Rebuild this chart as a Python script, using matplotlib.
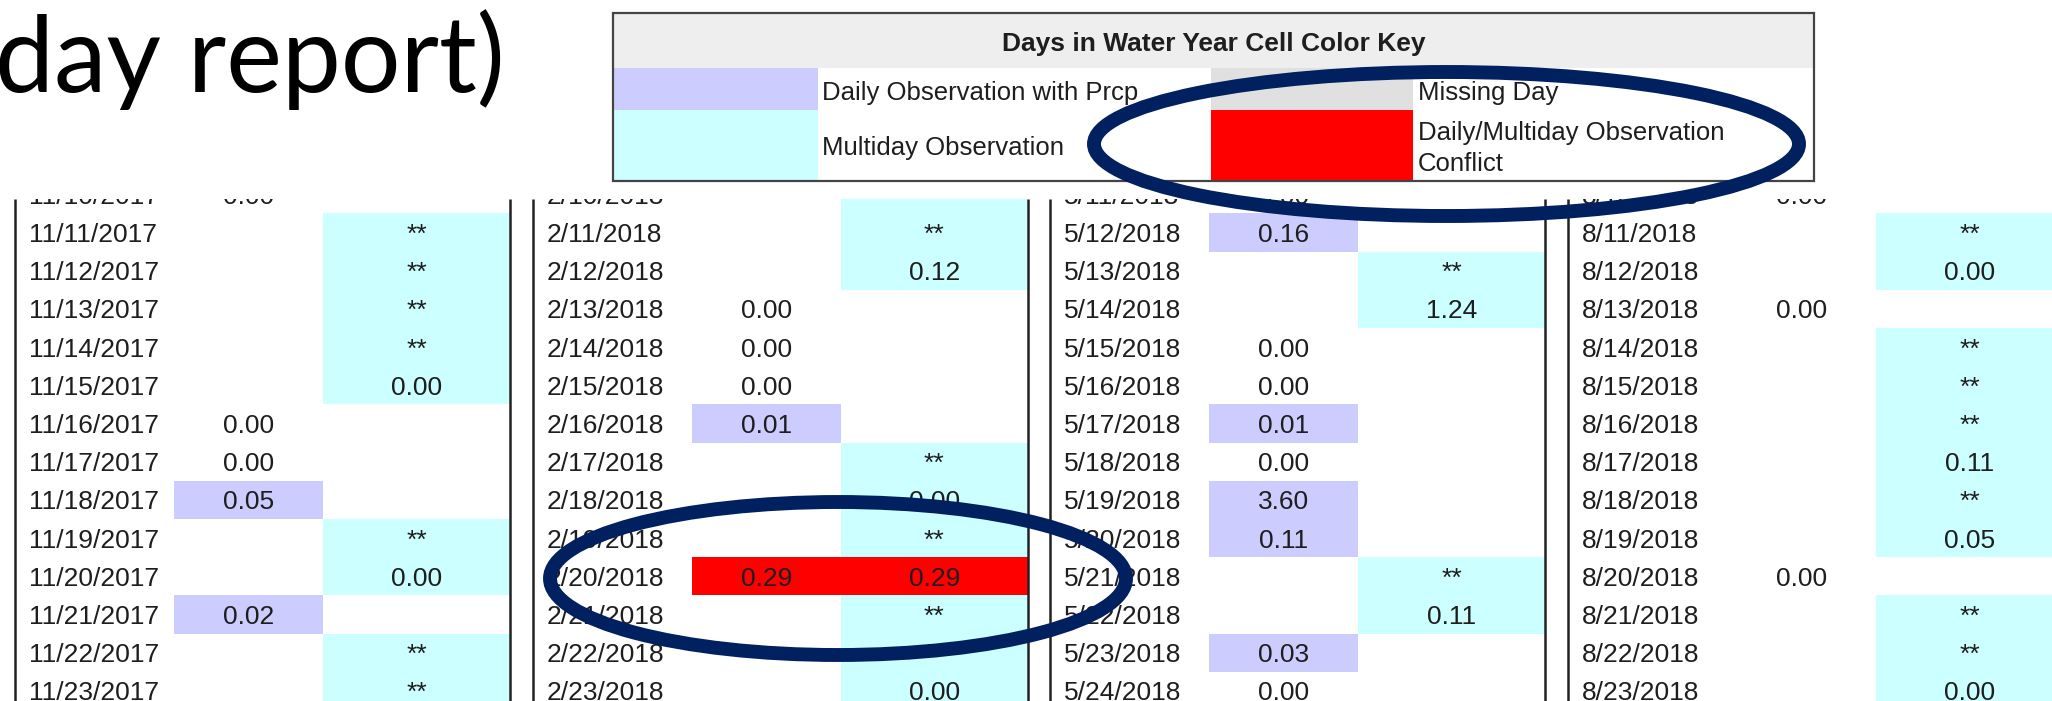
import matplotlib
matplotlib.use("Agg")
import matplotlib.pyplot as plt
from matplotlib.patches import Rectangle, Ellipse

plt.rcParams['font.family'] = ['Liberation Sans', 'DejaVu Sans']

# ---- data ----
title_text = "day report)"
key_title = "Days in Water Year Cell Color Key"
key_daily = "Daily Observation with Prcp"
key_multi = "Multiday Observation"
key_missing = "Missing Day"
key_conflict = ["Daily/Multiday Observation", "Conflict"]

dates_nov = ["11/10/2017", "11/11/2017", "11/12/2017", "11/13/2017", "11/14/2017",
             "11/15/2017", "11/16/2017", "11/17/2017", "11/18/2017", "11/19/2017",
             "11/20/2017", "11/21/2017", "11/22/2017", "11/23/2017"]
daily_nov = ["0.00", "", "", "", "", "", "0.00", "0.00", "0.05", "", "", "0.02", "", ""]
multi_nov = ["", "**", "**", "**", "**", "0.00", "", "", "", "**", "0.00", "", "**", "**"]

dates_feb = ["2/10/2018", "2/11/2018", "2/12/2018", "2/13/2018", "2/14/2018",
             "2/15/2018", "2/16/2018", "2/17/2018", "2/18/2018", "2/19/2018",
             "2/20/2018", "2/21/2018", "2/22/2018", "2/23/2018"]
daily_feb = ["", "", "", "0.00", "0.00", "0.00", "0.01", "", "", "", "0.29", "", "", ""]
multi_feb = ["**", "**", "0.12", "", "", "", "", "**", "0.00", "**", "0.29", "**", "**", "0.00"]

dates_may = ["5/11/2018", "5/12/2018", "5/13/2018", "5/14/2018", "5/15/2018",
             "5/16/2018", "5/17/2018", "5/18/2018", "5/19/2018", "5/20/2018",
             "5/21/2018", "5/22/2018", "5/23/2018", "5/24/2018"]
daily_may = ["0.00", "0.16", "", "", "0.00", "0.00", "0.01", "0.00", "3.60", "0.11", "", "", "0.03", "0.00"]
multi_may = ["", "", "**", "1.24", "", "", "", "", "", "", "**", "0.11", "", ""]

dates_aug = ["8/10/2018", "8/11/2018", "8/12/2018", "8/13/2018", "8/14/2018",
             "8/15/2018", "8/16/2018", "8/17/2018", "8/18/2018", "8/19/2018",
             "8/20/2018", "8/21/2018", "8/22/2018", "8/23/2018"]
daily_aug = ["0.00", "", "", "0.00", "", "", "", "", "", "", "0.00", "", "", ""]
multi_aug = ["", "**", "0.00", "", "**", "**", "**", "0.11", "**", "0.05", "", "**", "**", "0.00"]

panels = [(dates_nov, daily_nov, multi_nov),
          (dates_feb, daily_feb, multi_feb),
          (dates_may, daily_may, multi_may),
          (dates_aug, daily_aug, multi_aug)]

# ---- colours ----
PURPLE = "#ccccff"
CYAN = "#ccffff"
RED = "#ff0000"
MISSING = "#e0e0e0"
HEADER = "#eeeeee"
TXT = "#1e1e1e"
NAVY = "#002060"

W, H = 2052, 701
fig = plt.figure(figsize=(W / 100, H / 100), dpi=100)
fig.patch.set_facecolor("white")

# table part is clipped at its top edge, like the cropped screenshot
TOP = 199
tab = fig.add_axes([0, 0, 1, (H - TOP) / H])
tab.set_xlim(0, W)
tab.set_ylim(H, TOP)
tab.axis("off")

over = fig.add_axes([0, 0, 1, 1], zorder=2)
over.set_xlim(0, W)
over.set_ylim(H, 0)
over.axis("off")
over.patch.set_facecolor("none")

row_h = 38.2
row0 = 175.2
fs = 19

for p, (dates, daily, multi) in enumerate(panels):
    L = 15 + 517.7 * p
    R = L + 495
    dl, dm = L + 159, L + 308  # daily / multiday cell starts
    for i, d in enumerate(dates):
        top = row0 + row_h * i
        base = top + 28.5
        tab.text(L + 14, base, d, fontsize=fs, color=TXT, ha="left", va="baseline", clip_on=True)
        dv, mv = daily[i], multi[i]
        if dv and mv:
            tab.add_patch(Rectangle((dl, top), R - dl, row_h, color=RED, lw=0))
        else:
            if dv and float(dv) > 0:
                tab.add_patch(Rectangle((dl, top), dm - dl, row_h, color=PURPLE, lw=0))
            if mv:
                tab.add_patch(Rectangle((dm, top), R - dm, row_h, color=CYAN, lw=0))
        if dv:
            tab.text((dl + dm) / 2, base, dv, fontsize=fs, color=TXT, ha="center", va="baseline", clip_on=True)
        if mv:
            tab.text((dm + R) / 2, base, mv, fontsize=fs, color=TXT, ha="center", va="baseline", clip_on=True)
    for x in (L, R):
        tab.plot([x, x], [TOP, H], color="#222222", lw=1.8, solid_capstyle="butt")

# ---- colour key box ----
kx0, kx1, ky0, ky1 = 613, 1814, 13, 181
ya, yb = 68, 110
sx1, sx2, sx3 = 818, 1211, 1413
over.add_patch(Rectangle((kx0, ky0), kx1 - kx0, ky1 - ky0, facecolor="white", lw=0))
over.add_patch(Rectangle((kx0, ky0), kx1 - kx0, ya - ky0, facecolor=HEADER, lw=0))
over.add_patch(Rectangle((kx0, ya), sx1 - kx0, yb - ya, facecolor=PURPLE, lw=0))
over.add_patch(Rectangle((kx0, yb), sx1 - kx0, ky1 - yb, facecolor=CYAN, lw=0))
over.add_patch(Rectangle((sx2, ya), sx3 - sx2, yb - ya, facecolor=MISSING, lw=0))
over.add_patch(Rectangle((sx2, yb), sx3 - sx2, ky1 - yb, facecolor=RED, lw=0))
over.add_patch(Rectangle((kx0, ky0), kx1 - kx0, ky1 - ky0, fill=False, edgecolor="#444444", lw=1.6))

over.text((kx0 + kx1) / 2, 51, key_title, fontsize=19, fontweight="bold", color=TXT, ha="center", va="baseline")
over.text(822, 100, key_daily, fontsize=18.5, color=TXT, va="baseline")
over.text(822, 155, key_multi, fontsize=18.5, color=TXT, va="baseline")
over.text(1418, 100, key_missing, fontsize=18.5, color=TXT, va="baseline")
over.text(1418, 140, key_conflict[0], fontsize=18.5, color=TXT, va="baseline")
over.text(1418, 170.7, key_conflict[1], fontsize=18.5, color=TXT, va="baseline")

# ---- slide title fragment ----
over.text(-5, 91.5, title_text, fontsize=76, family=["Lato", "DejaVu Sans"], color="black", va="baseline")

# ---- highlight ellipses ----
over.add_patch(Ellipse((1446.5, 144), 705, 144, fill=False, edgecolor=NAVY, lw=10))
over.add_patch(Ellipse((838, 578.5), 576, 153, fill=False, edgecolor=NAVY, lw=10))

fig.savefig("out.png", dpi=100, facecolor="white")
